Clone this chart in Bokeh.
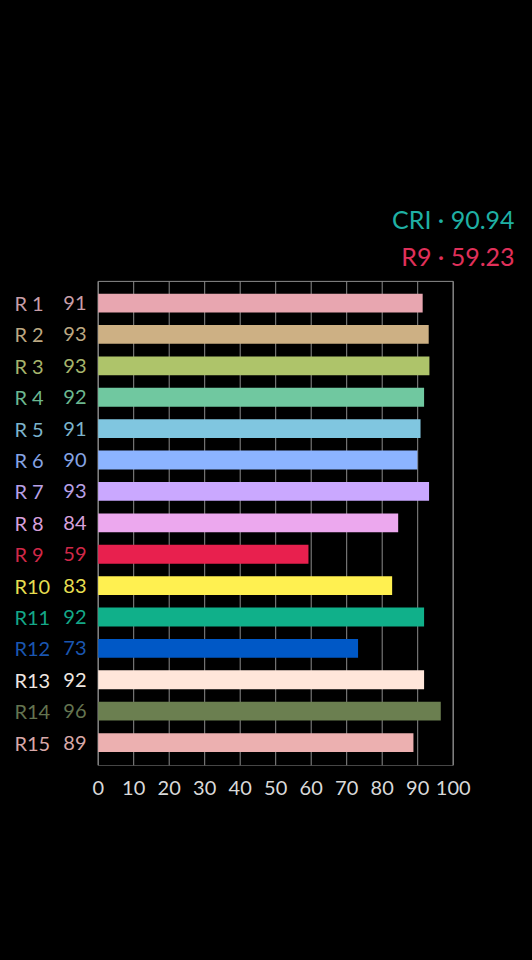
from bokeh.plotting import figure
from bokeh.models import Range1d, ColumnDataSource, FixedTicker
from bokeh.core.properties import value
from bokeh.embed import file_html
from bokeh.resources import INLINE

# ---- data ----
names = ["R 1", "R 2", "R 3", "R 4", "R 5", "R 6", "R 7", "R 8",
         "R 9", "R10", "R11", "R12", "R13", "R14", "R15"]
values = [91.4, 93.1, 93.3, 91.8, 90.8, 89.9, 93.2, 84.5,
          59.23, 82.8, 91.8, 73.2, 91.8, 96.5, 88.8]
value_labels = ["91", "93", "93", "92", "91", "90", "93", "84",
                "59", "83", "92", "73", "92", "96", "89"]
bar_colors = ["#e8a6b0", "#cdb084", "#aec46a", "#70c8a0", "#80c6e0", "#8cb4ff",
              "#caa8ff", "#eca8ee", "#e8204e", "#fff050", "#10b08a", "#0058c6",
              "#ffe6da", "#6b7f50", "#ecb0b0"]
label_colors = ["#c89ea8", "#bca882", "#a6b46c", "#6cb890", "#7cb4cc", "#86a4e4",
                "#b8a0e6", "#d8a0dc", "#d02848", "#e6de50", "#14a888", "#1a56b0",
                "#eee6e0", "#647450", "#d8a8a8"]
x_ticks = [0, 10, 20, 30, 40, 50, 60, 70, 80, 90, 100]
summary_texts = ["CRI · 90.94", "R9 · 59.23"]
summary_colors = ["#1fb0a4", "#e0305a"]

FONT = "Lato"
n = len(names)
rows = list(range(n))
pad = 0.69                      # category padding around the rows
y_top, y_bot = -pad, (n - 1) + pad + 0.04
x_min, x_max = x_ticks[0], x_ticks[-1]

p = figure(width=516, height=944, output_backend="svg", toolbar_location=None,
           x_range=Range1d(-27.52, 117.83), y_range=Range1d(y_bot, -9.637),
           min_border_left=0, min_border_right=0, min_border_top=0,
           min_border_bottom=179)
p.background_fill_color = "black"
p.border_fill_color = "black"
p.outline_line_color = None

p.yaxis.visible = False
p.ygrid.grid_line_color = None
p.xgrid.grid_line_color = None
p.xaxis.ticker = FixedTicker(ticks=x_ticks)
p.xaxis.axis_line_color = None
p.xaxis.major_tick_line_color = None
p.xaxis.minor_tick_line_color = None
p.xaxis.major_label_text_color = "#d9d9d9"
p.xaxis.major_label_text_font = FONT
p.xaxis.major_label_text_font_size = "20px"
p.xaxis.major_label_standoff = 9

# plot-area grid lines and frame
p.segment(x0=x_ticks, x1=x_ticks, y0=[y_top] * len(x_ticks), y1=[y_bot] * len(x_ticks),
          line_color="#8c8c8c", line_width=1)
p.quad(left=[x_min], right=[x_max], top=[y_top], bottom=[y_bot],
       fill_color=None, line_color="#8c8c8c", line_width=1)

src = ColumnDataSource(dict(y=rows, right=values, color=bar_colors,
                            name=names, vlab=value_labels, lcolor=label_colors,
                            xn=[-23.6] * n, xv=[-3.3] * n))

p.hbar(y="y", left=0, right="right", height=0.6, fill_color="color",
       line_color=None, source=src)

p.text(x="xn", y="y", text="name", source=src, text_color="lcolor",
       text_font=value(FONT), text_font_size=value("20px"),
       text_align="left", text_baseline="middle")
p.text(x="xv", y="y", text="vlab", source=src, text_color="lcolor",
       text_font=value(FONT), text_font_size=value("20px"),
       text_align="right", text_baseline="middle")

p.text(x=[117.3, 117.3], y=[-2.69, -1.51], text=summary_texts,
       text_color=summary_colors, text_font=value(FONT),
       text_font_size=value("25px"), text_align="right", text_baseline="middle")

html = file_html(p, INLINE, title="CRI")
html = html.replace("</head>", "<style>html,body{background:#000;}</style></head>", 1)
open("out.html", "w").write(html)
